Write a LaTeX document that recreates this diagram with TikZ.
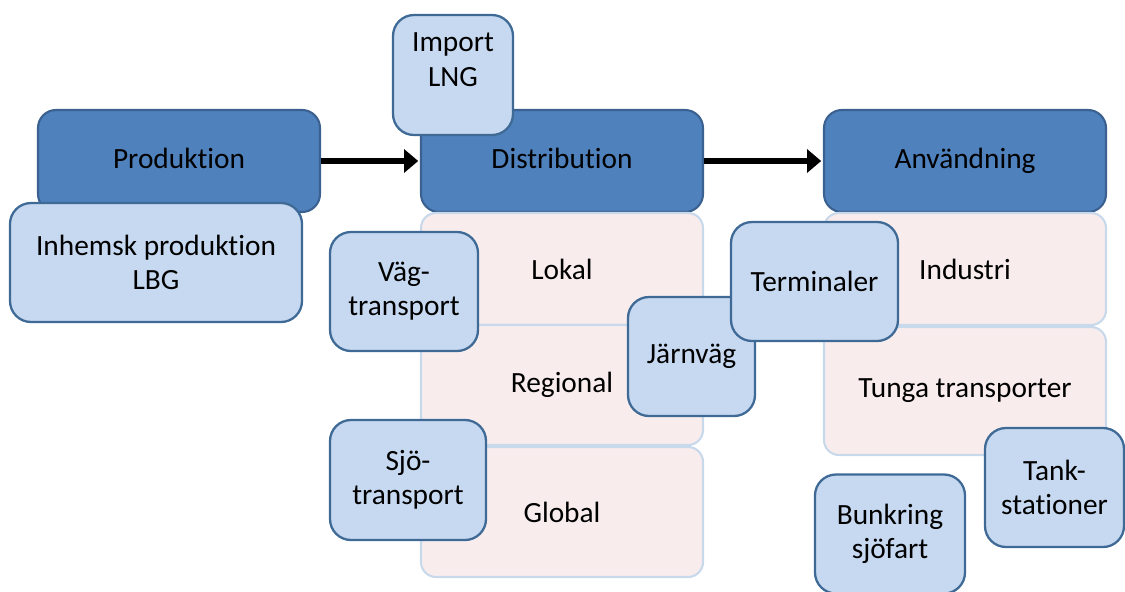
\documentclass[tikz,border=0pt]{standalone}
\usepackage{fontspec}
\setmainfont[Ligatures=NoCommon]{Carlito}
\usetikzlibrary{calc, positioning, arrows.meta}

\definecolor{headfill}{HTML}{4F81BD}
\definecolor{headline}{HTML}{3A6190}
\definecolor{itemfill}{HTML}{C6D9F1}
\definecolor{itemline}{HTML}{3F6A96}
\definecolor{levelfill}{HTML}{F8EDEC}
\definecolor{levelline}{HTML}{C9D9EC}

\tikzset{
  header/.style={rectangle, rounded corners=0.36cm, fill=headfill, draw=headline, line width=1.2pt,
    minimum width=5.64cm, minimum height=2.04cm, inner sep=0pt, text height=0.98em, text depth=0.12em},
  level/.style={rectangle, rounded corners=0.3cm, fill=levelfill, draw=levelline, line width=1.2pt,
    minimum width=5.64cm, inner sep=0pt},
  item/.style={rectangle, rounded corners=0.42cm, fill=itemfill, draw=itemline, line width=1.3pt,
    minimum height=2.38cm, inner sep=0pt, align=center},
  flow/.style={line width=3.8pt, -{Triangle[length=8pt, width=13pt]}, shorten >=1pt}
}

\begin{document}
\begin{tikzpicture}[font=\fontsize{16.7}{19.5}\selectfont]

	\useasboundingbox (0,0) rectangle (22.5,11.82);

	% steps
	\node[header] (prod) at (3.58,8.6) {Produktion};
	\node[header] (dist) at (11.24,8.6) {Distribution};
	\node[header] (anv) at (19.3,8.6) {Användning};

	% levels under the steps
	\node[level, minimum height=2.24cm] (lokal) at (11.24,6.44) {Lokal};
	\node[level, minimum height=2.4cm] (regional) at (11.24,4.12) {Regional};
	\node[level, minimum height=2.6cm] (global) at (11.24,1.58) {Global};
	\node[level, minimum height=2.24cm] (industri) at (19.3,6.44) {Industri};
	\node[level, minimum height=2.56cm] (tunga) at (19.3,4.0) {Tunga transporter};

	\draw[flow] (prod) -- (dist);
	\draw[flow] (dist) -- (anv);

	% items
	\node[item, minimum width=2.4cm, minimum height=2.4cm, text depth=0.62cm] (import) at (9.06,10.32) {Import\\LNG};
	\node[item, minimum width=5.84cm] (inhemsk) at (3.12,6.57) {Inhemsk produktion\\LBG};
	\node[item, minimum width=2.96cm] (vag) at (8.08,5.99) {Väg-\\transport};
	\node[item, minimum width=3.12cm, minimum height=2.4cm] (sjo) at (8.16,2.22) {Sjö-\\transport};
	\node[item, minimum width=2.54cm] (jarnvag) at (13.83,4.69) {Järnväg};
	\node[item, minimum width=3.34cm] (terminaler) at (16.29,6.19) {Terminaler};
	\node[item, minimum width=3.0cm] (bunkring) at (17.8,1.14) {Bunkring\\sjöfart};
	\node[item, minimum width=2.78cm] (tank) at (21.09,2.07) {Tank-\\stationer};

\end{tikzpicture}
\end{document}
